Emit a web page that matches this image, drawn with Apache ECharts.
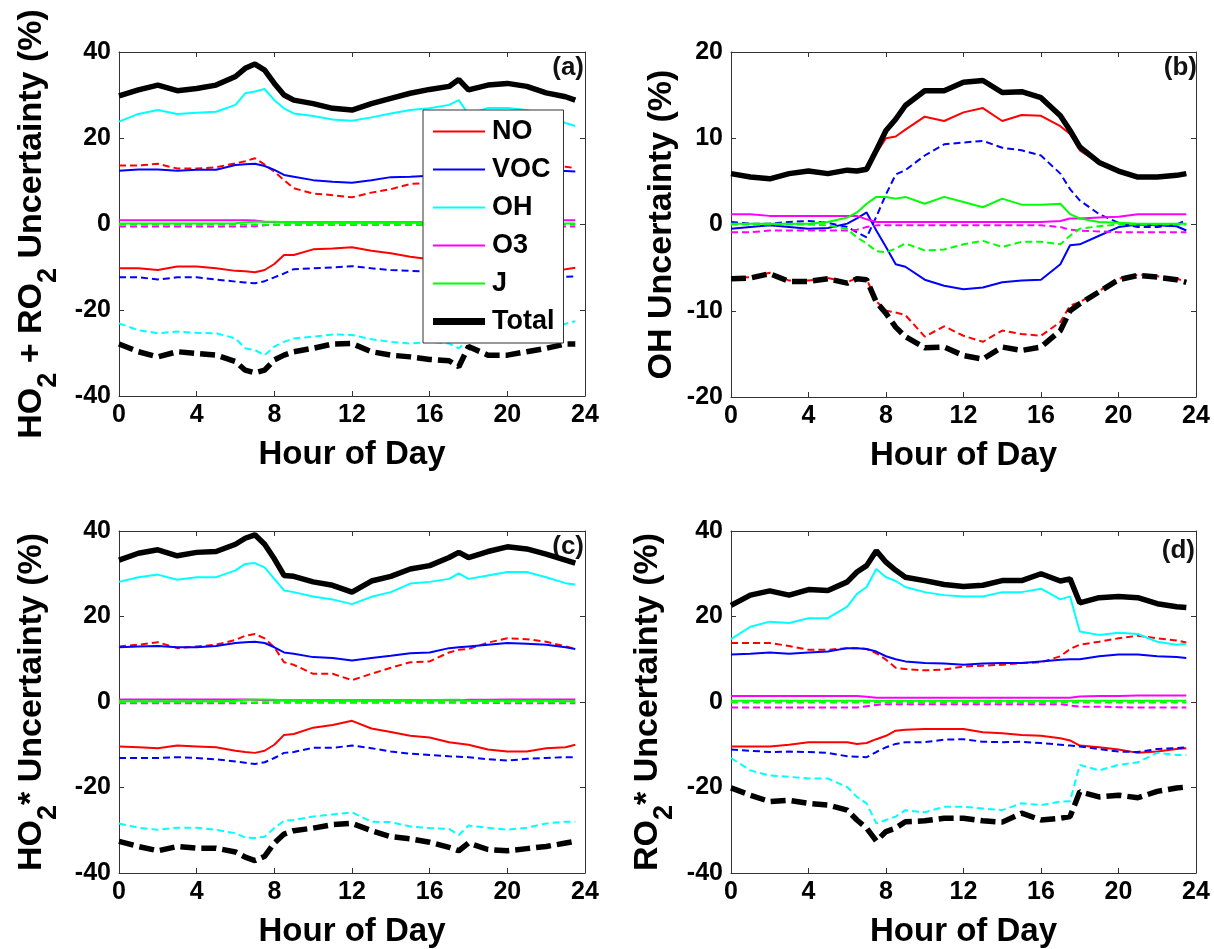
<!DOCTYPE html>
<html><head><meta charset="utf-8">
<script src="https://cdn.jsdelivr.net/npm/echarts@6/dist/echarts.min.js"></script>
<style>html,body{margin:0;padding:0;background:#fff}#c{width:1214px;height:949px}</style>
</head><body><div id="c"></div>
<script>
// ---------------- data ----------------
const HOURS = [0,1,2,3,4,5,6,6.5,7,7.5,8,8.5,9,10,11,12,13,14,15,16,17,17.5,18,19,20,21,22,23,23.5];

// (a) HO2 + RO2
const A_NO_DASH   = [13.6,13.6,14.0,12.9,12.9,13.2,14.1,14.6,15.3,13.8,12.2,10.2,8.3,7.1,6.7,6.2,7.3,8.1,9.3,9.6,10.0,10.3,11.0,12.0,13.0,13.5,13.5,13.3,13.0];
const A_NO_SOLID  = [-10.3,-10.3,-10.7,-9.9,-9.9,-10.3,-10.9,-11.0,-11.2,-10.7,-9.3,-7.2,-7.2,-5.9,-5.7,-5.4,-6.2,-6.8,-7.6,-8.2,-8.7,-9.0,-9.2,-9.7,-10.2,-10.5,-10.7,-10.5,-10.2];
const A_VOC_SOLID = [12.4,12.7,12.7,12.4,12.6,12.6,13.7,13.9,14.0,13.5,12.6,11.4,11.0,10.2,9.8,9.6,10.2,10.9,11.0,11.2,11.3,11.4,11.5,12.0,12.5,12.5,12.5,12.3,12.2];
const A_VOC_DASH  = [-12.4,-12.4,-12.9,-12.4,-12.4,-12.9,-13.4,-13.6,-13.8,-13.3,-12.4,-11.5,-10.5,-10.3,-10.1,-9.8,-10.3,-10.7,-10.9,-11.1,-11.3,-11.4,-11.6,-12.0,-12.4,-12.5,-12.5,-12.3,-12.2];
const A_OH_SOLID  = [23.8,25.6,26.5,25.6,25.9,26.1,27.7,30.4,30.8,31.4,28.8,26.9,25.7,25.1,24.3,24.0,24.8,25.7,26.5,26.9,27.7,28.8,25.5,27.0,27.0,26.5,25.0,23.5,22.8];
const A_OH_DASH   = [-23.1,-24.7,-25.4,-25.0,-25.3,-25.4,-26.6,-28.9,-29.3,-30.5,-28.5,-27.4,-26.6,-26.2,-25.7,-25.8,-26.8,-27.4,-27.8,-27.4,-27.8,-28.9,-27.0,-27.0,-26.5,-25.5,-24.5,-23.2,-22.6];
const A_O3_SOLID  = [0.9,0.9,0.9,0.9,0.9,0.9,0.9,0.9,0.8,0.5,0.4,0.4,0.4,0.4,0.4,0.4,0.4,0.4,0.4,0.4,0.4,0.4,0.5,0.7,0.8,0.9,0.9,0.9,0.9];
const A_O3_DASH   = [-0.6,-0.6,-0.6,-0.6,-0.6,-0.6,-0.6,-0.6,-0.5,-0.3,-0.2,-0.2,-0.2,-0.2,-0.2,-0.2,-0.2,-0.2,-0.2,-0.2,-0.2,-0.2,-0.3,-0.4,-0.5,-0.6,-0.6,-0.6,-0.6];
const A_J_SOLID   = [0.1,0.1,0.1,0.1,0.1,0.1,0.2,0.4,0.5,0.5,0.5,0.4,0.3,0.3,0.3,0.3,0.3,0.3,0.3,0.3,0.3,0.3,0.2,0.2,0.1,0.1,0.1,0.1,0.1];
const A_J_DASH    = [-0.1,-0.1,-0.1,-0.1,-0.1,-0.1,-0.1,-0.2,-0.2,-0.2,-0.2,-0.2,-0.1,-0.1,-0.1,-0.1,-0.1,-0.1,-0.1,-0.1,-0.1,-0.1,-0.1,-0.1,-0.1,-0.1,-0.1,-0.1,-0.1];
const A_TOT_SOLID = [29.8,31.2,32.3,31.0,31.5,32.3,34.3,36.2,37.2,35.8,32.7,30.0,28.8,28.0,26.9,26.5,28.0,29.2,30.4,31.3,32.0,33.6,31.2,32.3,32.7,32.0,30.5,29.6,28.8];
const A_TOT_DASH  = [-27.9,-29.7,-30.9,-29.7,-30.1,-30.5,-32.0,-34.0,-34.6,-34.0,-31.6,-30.5,-29.7,-28.9,-27.9,-27.8,-29.7,-30.5,-30.9,-31.5,-31.8,-33.2,-28.5,-30.5,-30.5,-29.7,-28.9,-27.9,-27.9];

// (b) OH
const B_NO_SOLID  = [5.8,5.4,5.2,5.8,6.1,5.8,6.2,6.1,6.3,8.3,10.0,10.2,11.0,12.5,12.0,13.0,13.5,12.0,12.7,12.6,11.4,10.5,8.6,7.1,6.1,5.4,5.4,5.6,5.8];
const B_NO_DASH   = [-6.2,-6.1,-5.6,-6.5,-6.5,-6.2,-6.7,-6.2,-6.3,-8.9,-10.0,-10.2,-10.5,-13.0,-11.8,-12.9,-13.6,-12.3,-12.7,-12.9,-11.3,-9.4,-9.0,-7.7,-6.3,-5.8,-6.0,-6.3,-6.6];
const B_VOC_SOLID = [-0.5,-0.3,-0.1,-0.3,-0.5,-0.4,0.1,0.7,1.4,-0.7,-2.6,-4.6,-4.9,-6.4,-7.1,-7.5,-7.3,-6.7,-6.5,-6.4,-4.6,-2.4,-2.3,-1.3,-0.3,0.0,-0.1,-0.2,-0.7];
const B_VOC_DASH  = [0.3,0.1,0.1,0.3,0.4,0.2,-0.3,-0.9,-1.5,0.9,3.5,5.8,6.3,8.0,9.3,9.5,9.7,8.9,8.6,8.0,5.9,4.1,2.8,1.2,0.2,-0.3,-0.3,0.0,0.5];
const B_O3_SOLID  = [1.2,1.2,1.0,1.0,1.0,1.0,1.0,1.0,0.6,0.3,0.3,0.3,0.3,0.3,0.3,0.3,0.3,0.3,0.3,0.3,0.4,0.7,0.7,0.8,0.9,1.2,1.2,1.2,1.2];
const B_O3_DASH   = [-0.9,-0.9,-0.7,-0.7,-0.7,-0.7,-0.7,-0.6,-0.3,-0.1,-0.1,-0.1,-0.1,-0.1,-0.1,-0.1,-0.1,-0.1,-0.1,-0.1,-0.3,-0.6,-0.7,-0.8,-0.9,-0.9,-0.9,-0.9,-0.9];
const B_J_SOLID   = [0.1,0.1,0.1,0.1,0.1,0.3,0.8,1.4,2.4,3.2,3.2,3.0,3.2,2.4,3.2,2.6,2.0,3.0,2.3,2.3,2.4,1.2,0.7,0.3,0.2,0.1,0.1,0.1,0.1];
const B_J_DASH    = [0.0,0.0,0.0,0.0,0.0,-0.1,-0.5,-1.5,-2.2,-3.1,-3.2,-2.8,-2.2,-3.0,-2.9,-2.3,-1.9,-2.6,-2.0,-2.0,-2.3,-1.3,-0.5,-0.2,0.0,0.0,0.0,0.0,0.0];
const B_TOT_SOLID = [5.9,5.5,5.3,5.9,6.2,5.9,6.3,6.2,6.4,8.6,10.9,12.2,13.8,15.5,15.5,16.5,16.7,15.3,15.4,14.7,12.6,10.9,9.0,7.2,6.2,5.5,5.5,5.7,5.9];
const B_TOT_DASH  = [-6.3,-6.2,-5.7,-6.6,-6.6,-6.3,-6.8,-6.3,-6.4,-9.0,-10.3,-11.9,-13.0,-14.3,-14.2,-15.2,-15.6,-14.2,-14.6,-14.2,-12.3,-10.0,-9.2,-7.8,-6.4,-5.9,-6.1,-6.4,-6.7];

// (c) HO2*
const C_NO_DASH   = [13.0,13.4,14.0,12.6,13.0,13.4,14.5,15.5,15.9,14.9,12.8,9.3,8.7,6.6,6.6,5.1,6.6,8.0,9.3,9.5,11.6,12.2,12.4,13.9,14.9,14.7,14.1,13.0,12.4];
const C_NO_SOLID  = [-10.4,-10.6,-10.8,-10.2,-10.4,-10.6,-11.4,-11.7,-11.9,-11.4,-10.0,-7.7,-7.5,-6.0,-5.4,-4.4,-6.2,-7.0,-7.9,-8.3,-9.4,-9.7,-10.0,-11.1,-11.6,-11.6,-10.8,-10.6,-10.0];
const C_VOC_SOLID = [12.8,13.0,13.1,12.8,12.8,13.1,13.8,14.0,14.1,13.8,12.8,11.6,11.3,10.5,10.3,9.7,10.3,10.8,11.4,11.6,12.6,12.8,13.0,13.4,13.8,13.6,13.4,12.8,12.4];
const C_VOC_DASH  = [-13.1,-13.1,-13.1,-12.9,-13.1,-13.4,-13.9,-14.2,-14.5,-14.1,-13.1,-11.9,-11.7,-10.7,-10.7,-10.2,-10.8,-11.6,-12.1,-12.4,-12.7,-12.8,-12.9,-13.4,-13.7,-13.3,-13.1,-12.9,-12.9];
const C_OH_SOLID  = [28.1,29.2,29.8,28.6,29.2,29.2,30.8,32.3,32.5,31.5,28.8,26.1,25.7,24.7,24.0,22.9,24.6,25.7,27.7,28.1,28.8,30.1,28.8,29.6,30.4,30.4,29.2,27.8,27.5];
const C_OH_DASH   = [-28.4,-29.4,-29.9,-29.4,-29.4,-29.9,-30.7,-31.7,-31.8,-31.5,-29.5,-27.8,-27.6,-26.8,-26.3,-25.8,-28.0,-28.1,-29.1,-29.5,-29.7,-31.1,-28.9,-29.4,-29.9,-29.4,-28.4,-28.0,-28.0];
const C_O3_SOLID  = [0.6,0.6,0.6,0.6,0.6,0.6,0.6,0.6,0.5,0.4,0.4,0.4,0.4,0.4,0.4,0.4,0.4,0.4,0.4,0.4,0.4,0.4,0.5,0.5,0.6,0.6,0.6,0.6,0.6];
const C_O3_DASH   = [-0.3,-0.3,-0.3,-0.3,-0.3,-0.3,-0.3,-0.3,-0.2,-0.2,-0.1,-0.1,-0.1,-0.1,-0.1,-0.1,-0.1,-0.1,-0.1,-0.1,-0.1,-0.1,-0.2,-0.2,-0.3,-0.3,-0.3,-0.3,-0.3];
const C_J_SOLID   = [0.2,0.2,0.2,0.2,0.2,0.2,0.3,0.5,0.6,0.6,0.5,0.4,0.3,0.3,0.3,0.3,0.3,0.3,0.3,0.4,0.5,0.5,0.3,0.3,0.3,0.3,0.3,0.2,0.2];
const C_J_DASH    = [-0.1,-0.1,-0.1,-0.1,-0.1,-0.1,-0.1,-0.1,-0.1,-0.1,-0.1,-0.1,-0.1,-0.1,-0.1,-0.1,-0.1,-0.1,-0.1,-0.1,-0.1,-0.1,-0.1,-0.1,-0.1,-0.1,-0.1,-0.1,-0.1];
const C_TOT_SOLID = [33.2,34.8,35.6,34.2,35.0,35.2,36.9,38.3,39.1,36.9,33.5,29.6,29.4,28.1,27.3,25.7,28.3,29.4,31.1,31.9,33.8,35.0,33.8,35.2,36.3,35.8,34.6,33.2,32.5];
const C_TOT_DASH  = [-32.6,-33.8,-34.8,-33.8,-34.2,-34.2,-35.1,-36.3,-37.1,-36.1,-33.0,-30.9,-30.1,-29.5,-28.7,-28.4,-30.1,-31.5,-32.0,-32.8,-34.0,-34.8,-33.0,-34.5,-34.8,-34.3,-33.8,-33.0,-32.6];

// (d) RO2*
const D_NO_DASH   = [13.8,13.8,13.8,13.1,12.2,12.2,12.6,12.6,12.4,11.4,9.9,8.0,7.7,7.4,7.6,8.3,8.5,8.7,9.1,9.3,10.7,12.4,13.4,14.1,14.9,15.5,14.9,14.4,13.9];
const D_NO_SOLID  = [-10.4,-10.4,-10.4,-10.0,-9.4,-9.4,-9.4,-9.8,-9.6,-8.7,-7.9,-6.7,-6.5,-6.3,-6.3,-6.3,-7.1,-7.3,-7.7,-7.9,-8.5,-9.0,-10.2,-10.6,-11.1,-11.9,-11.6,-11.0,-10.8];
const D_VOC_SOLID = [11.1,11.3,11.6,11.3,11.6,11.8,12.6,12.6,12.4,11.8,10.7,10.0,9.5,9.1,9.0,8.7,9.0,9.1,9.1,9.5,9.9,10.0,10.0,10.7,11.1,11.1,10.7,10.5,10.3];
const D_VOC_DASH  = [-11.1,-11.4,-11.7,-11.6,-11.7,-11.9,-12.7,-12.8,-12.9,-11.7,-10.6,-9.8,-9.4,-9.4,-8.8,-8.7,-9.3,-9.4,-9.3,-9.6,-10.0,-10.2,-10.4,-11.0,-11.6,-11.7,-11.0,-10.8,-10.6];
const D_OH_SOLID  = [14.7,17.6,18.8,18.5,19.6,19.6,22.3,25.3,26.9,31.1,29.2,28.3,26.9,25.7,25.0,24.7,24.7,25.7,25.7,26.5,24.0,24.7,16.5,15.7,16.2,15.9,14.1,13.4,13.6];
const D_OH_DASH   = [-13.1,-16.0,-17.2,-17.5,-17.9,-17.9,-19.9,-22.2,-23.7,-28.4,-27.6,-26.8,-25.3,-25.8,-24.5,-24.5,-24.9,-25.3,-23.7,-24.1,-23.3,-23.2,-14.7,-16.0,-14.7,-14.1,-11.9,-12.4,-12.4];
const D_O3_SOLID  = [1.4,1.4,1.4,1.4,1.4,1.4,1.4,1.4,1.2,1.0,1.0,1.0,1.0,1.0,1.0,1.0,1.0,1.0,1.0,1.0,1.0,1.0,1.3,1.4,1.4,1.5,1.5,1.5,1.5];
const D_O3_DASH   = [-1.3,-1.3,-1.3,-1.3,-1.3,-1.3,-1.3,-1.3,-1.0,-0.7,-0.5,-0.5,-0.5,-0.5,-0.5,-0.5,-0.5,-0.5,-0.5,-0.5,-0.5,-0.8,-1.1,-1.1,-1.2,-1.3,-1.3,-1.3,-1.3];
const D_J_SOLID   = [0.3,0.3,0.3,0.3,0.3,0.3,0.3,0.3,0.3,0.3,0.3,0.3,0.3,0.3,0.3,0.3,0.3,0.3,0.3,0.3,0.3,0.3,0.3,0.3,0.3,0.3,0.3,0.3,0.3];
const D_J_DASH    = [-0.1,-0.1,-0.1,-0.1,-0.1,-0.1,-0.1,-0.1,-0.1,-0.1,-0.1,-0.1,-0.1,-0.1,-0.1,-0.1,-0.1,-0.1,-0.1,-0.1,-0.1,-0.1,-0.1,-0.1,-0.1,-0.1,-0.1,-0.1,-0.1];
const D_TOT_SOLID = [22.6,25.0,26.0,25.0,26.3,26.1,28.1,30.4,31.9,35.4,32.7,30.8,29.2,28.4,27.5,27.0,27.3,28.4,28.4,30.0,28.3,28.8,23.2,24.4,24.7,24.4,23.0,22.3,22.1];
const D_TOT_DASH  = [-20.1,-21.8,-23.3,-23.0,-23.7,-24.1,-25.3,-27.6,-29.5,-32.5,-30.3,-29.5,-28.0,-27.8,-27.2,-27.2,-27.8,-28.1,-26.0,-27.6,-27.2,-26.8,-21.0,-22.2,-21.8,-22.4,-20.9,-20.1,-19.9];

const LEGEND_NAMES = ['NO','VOC','OH','O3','J','Total'];
const PANEL_TAGS = ['(a)','(b)','(c)','(d)'];
const X_TITLE = 'Hour of Day';
const Y_TITLES = [
  '{m|HO}{s|2}{m| + RO}{s|2}{m| Uncertainty (%)}',
  '{m|OH Uncertainty (%)}',
  '{m|HO}{s|2}{m|* Uncertainty (%)}',
  '{m|RO}{s|2}{m|* Uncertainty (%)}'
];
const Y_RANGES = [[-40,40,20],[-20,20,10],[-40,40,20],[-40,40,20]];
const X_RANGE = [0,24,4];

// ---------------- layout / styling ----------------
const FF = '"Liberation Sans", Arial, Helvetica, sans-serif';
const COLORS = {NO:'#ff0000', VOC:'#0000ff', OH:'#00ffff', O3:'#ff00ff', J:'#00ff00', Total:'#000000'};
const GRIDS = [
  {left:119, top:52, width:466, height:344},
  {left:731, top:52, width:465, height:345},
  {left:119, top:531, width:466, height:345},
  {left:731, top:531, width:465, height:345}
];
const Y_NAME_GAPS = [68, 50, 68, 64];
const TAG_POS = [{right:630, top:55},{right:17, top:55},{right:630, top:534},{right:19, top:538}];

const PANELS = [
  [['NO',A_NO_DASH,1],['NO',A_NO_SOLID,0],['VOC',A_VOC_SOLID,0],['VOC',A_VOC_DASH,1],['OH',A_OH_SOLID,0],['OH',A_OH_DASH,1],['O3',A_O3_SOLID,0],['O3',A_O3_DASH,1],['J',A_J_SOLID,0],['J',A_J_DASH,1],['Total',A_TOT_SOLID,0],['Total',A_TOT_DASH,1]],
  [['NO',B_NO_SOLID,0],['NO',B_NO_DASH,1],['VOC',B_VOC_SOLID,0],['VOC',B_VOC_DASH,1],['O3',B_O3_SOLID,0],['O3',B_O3_DASH,1],['J',B_J_SOLID,0],['J',B_J_DASH,1],['Total',B_TOT_SOLID,0],['Total',B_TOT_DASH,1]],
  [['NO',C_NO_DASH,1],['NO',C_NO_SOLID,0],['VOC',C_VOC_SOLID,0],['VOC',C_VOC_DASH,1],['OH',C_OH_SOLID,0],['OH',C_OH_DASH,1],['O3',C_O3_SOLID,0],['O3',C_O3_DASH,1],['J',C_J_SOLID,0],['J',C_J_DASH,1],['Total',C_TOT_SOLID,0],['Total',C_TOT_DASH,1]],
  [['NO',D_NO_DASH,1],['NO',D_NO_SOLID,0],['VOC',D_VOC_SOLID,0],['VOC',D_VOC_DASH,1],['OH',D_OH_SOLID,0],['OH',D_OH_DASH,1],['O3',D_O3_SOLID,0],['O3',D_O3_DASH,1],['J',D_J_SOLID,0],['J',D_J_DASH,1],['Total',D_TOT_SOLID,0],['Total',D_TOT_DASH,1]]
];

const AX_COLOR = '#333';
const RICH = {
  m:{fontSize:34, fontWeight:'bold', fontFamily:FF, color:'#000', lineHeight:36, verticalAlign:'top'},
  s:{fontSize:27, fontWeight:'bold', fontFamily:FF, color:'#000', lineHeight:27, padding:[20,0,0,0], verticalAlign:'top'}
};

const xAxis = [], yAxis = [], series = [], graphic = [];
GRIDS.forEach((g, p) => {
  const common = {gridIndex:p, type:'value', splitLine:{show:false},
    axisLine:{show:true, onZero:false, lineStyle:{color:AX_COLOR, width:1}},
    axisTick:{show:true, inside:true, length:5, lineStyle:{color:AX_COLOR}}};
  xAxis.push(Object.assign({}, common, {position:'bottom', min:X_RANGE[0], max:X_RANGE[1], interval:X_RANGE[2],
    axisLabel:{fontSize:25, fontWeight:'bold', fontFamily:FF, color:'#000', margin:7},
    name:X_TITLE, nameLocation:'middle', nameGap:42,
    nameTextStyle:{fontSize:33, fontWeight:'bold', fontFamily:FF, color:'#000'}}));
  xAxis.push(Object.assign({}, common, {position:'top', min:X_RANGE[0], max:X_RANGE[1], interval:X_RANGE[2], axisLabel:{show:false}}));
  const [ymin, ymax, yint] = Y_RANGES[p];
  yAxis.push(Object.assign({}, common, {position:'left', min:ymin, max:ymax, interval:yint,
    axisLabel:{fontSize:25, fontWeight:'bold', fontFamily:FF, color:'#000', margin:8},
    name:Y_TITLES[p], nameLocation:'middle', nameGap:Y_NAME_GAPS[p],
    nameTextStyle:{rich:RICH}}));
  yAxis.push(Object.assign({}, common, {position:'right', min:ymin, max:ymax, interval:yint, axisLabel:{show:false}}));
  PANELS[p].forEach(([factor, arr, dashed]) => {
    const tot = factor === 'Total';
    series.push({
      type:'line', name: dashed ? factor + ' dashed' : factor,
      xAxisIndex:p*2, yAxisIndex:p*2,
      data: HOURS.map((h, i) => [h, arr[i]]),
      symbol:'none', showSymbol:false, silent:true, z: tot ? 3 : 2,
      itemStyle:{color:COLORS[factor]},
      lineStyle:{color:COLORS[factor], width: tot ? 5.5 : 2,
        type: dashed ? (tot ? [15,6] : [7,4]) : 'solid'}
    });
  });
  graphic.push({type:'text', right:TAG_POS[p].right, top:TAG_POS[p].top, z:1,
    style:{text:PANEL_TAGS[p], font:'bold 26px ' + FF, fill:'#111'}});
});

const legendData = LEGEND_NAMES.map(n => ({
  name:n,
  icon: n === 'Total' ? 'path://M0,0H52V7H0Z' : 'path://M0,0H52V2H0Z'
}));

const chart = echarts.init(document.getElementById('c'), null, {renderer:'canvas'});
chart.setOption({
  backgroundColor:'#fff',
  animation:false,
  grid:GRIDS,
  xAxis, yAxis, series, graphic,
  legend:{
    data:legendData, orient:'vertical', left:423, top:110,
    itemWidth:52, itemHeight:14, itemGap:11, symbolKeepAspect:true,
    padding:[8,9,8,10],
    backgroundColor:'#fff', borderColor:'#333', borderWidth:1,
    textStyle:{fontSize:27, fontWeight:'bold', fontFamily:FF, color:'#000', padding:[0,0,0,2]},
    selectedMode:false
  }
});
</script></body></html>
